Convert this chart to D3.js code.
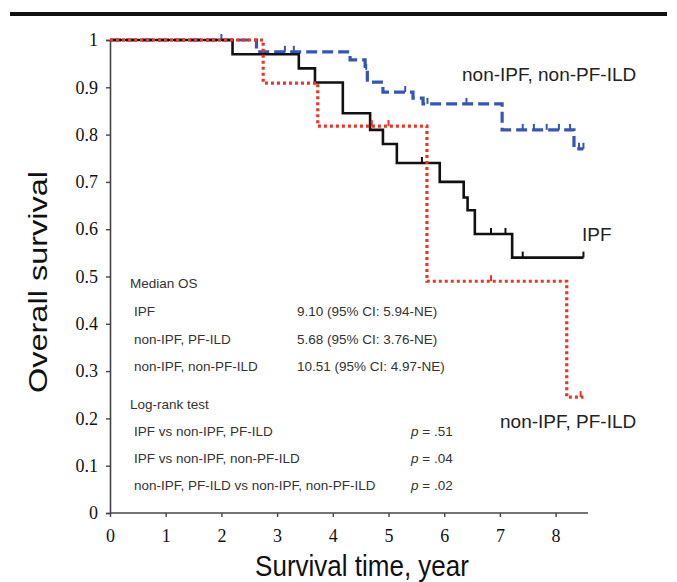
<!DOCTYPE html>
<html>
<head>
<meta charset="utf-8">
<script src="https://cdn.jsdelivr.net/npm/d3@7"></script>
<style>
  body { margin: 0; background: #fff; }
  svg text { font-family: "Liberation Sans", Arial, sans-serif; }
</style>
</head>
<body>
<svg id="chart" width="677" height="582"></svg>
<script>
// axis ticks
const xTicks = [0, 1, 2, 3, 4, 5, 6, 7, 8];
const yTicks = [0, 0.1, 0.2, 0.3, 0.4, 0.5, 0.6, 0.7, 0.8, 0.9, 1];

// step curves (time in years, survival)
const ipfTimes = [0, 2.2, 3.39, 3.68, 4.18, 4.67, 4.9, 5.15, 5.92, 6.35, 6.42, 6.55, 7.22, 8.5];
const ipfSurv  = [1, 0.97, 0.94, 0.91, 0.845, 0.81, 0.78, 0.74, 0.70, 0.667, 0.64, 0.59, 0.54, 0.54];
const ipfCensor = [5.6, 6.84, 7.1, 7.41, 8.5];

const pfTimes = [0, 2.75, 3.73, 5.69, 8.2, 8.5];
const pfSurv  = [1, 0.909, 0.818, 0.49, 0.245, 0.245];
const pfCensor = [4.7, 5.0, 6.84, 8.45];

const nonTimes = [0, 2.63, 4.31, 4.58, 4.62, 4.9, 5.44, 5.62, 7.04, 8.33, 8.5];
const nonSurv  = [1, 0.975, 0.958, 0.937, 0.911, 0.89, 0.877, 0.865, 0.81, 0.77, 0.77];
const nonCensor = [2.0, 3.14, 3.3, 4.6, 5.3, 5.7, 6.4, 7.41, 7.61, 7.84, 8.06, 8.26, 8.42, 8.5];

// legend box contents
const medianRows = ["IPF", "non-IPF, PF-ILD", "non-IPF, non-PF-ILD"];
const medianVals = ["9.10 (95% CI: 5.94-NE)", "5.68 (95% CI: 3.76-NE)", "10.51 (95% CI: 4.97-NE)"];
const testRows = ["IPF vs non-IPF, PF-ILD", "IPF vs non-IPF, non-PF-ILD", "non-IPF, PF-ILD vs non-IPF, non-PF-ILD"];
const testP = [".51", ".04", ".02"];

const svg = d3.select("#chart");

// rule at the top of the figure
svg.append("rect").attr("x", 10).attr("y", 12).attr("width", 657).attr("height", 4).attr("fill", "#111");

const x = d3.scaleLinear().domain([0, 8]).range([110, 555.6]);
const y = d3.scaleLinear().domain([0, 1]).range([513, 40]);

// axes
const xAxis = svg.append("g")
  .attr("transform", "translate(0," + y(0) + ")")
  .call(d3.axisBottom(x).tickValues(xTicks).tickSize(4).tickPadding(12).tickFormat(d3.format("d")));
xAxis.select(".domain").attr("d", "M110,0H588");

const yAxis = svg.append("g")
  .attr("transform", "translate(" + x(0) + ",0)")
  .call(d3.axisLeft(y).tickValues(yTicks).tickSize(4).tickPadding(8).tickFormat(d => d === 0 || d === 1 ? d3.format("d")(d) : d3.format(".1f")(d)));

[xAxis, yAxis].forEach(g => {
  g.selectAll(".domain").attr("stroke", "#444").attr("stroke-width", 1.6);
  g.selectAll(".tick line").attr("stroke", "#444").attr("stroke-width", 1.4);
  g.selectAll(".tick text")
    .style("font-family", "'Liberation Serif', 'Times New Roman', serif")
    .style("font-size", "18px").attr("fill", "#111");
});

// axis titles (the source figure is a little stretched vertically)
svg.append("text")
  .attr("transform", "translate(47,282) rotate(-90) scale(1.25,1)")
  .attr("text-anchor", "middle").style("font-size", "26px").attr("fill", "#111")
  .text("Overall survival");
svg.append("text")
  .attr("transform", "translate(362,576) scale(1,1.1)")
  .attr("text-anchor", "middle").style("font-size", "26px").attr("fill", "#111")
  .text("Survival time, year");

const stepLine = d3.line().x(d => x(d[0])).y(d => y(d[1])).curve(d3.curveStepAfter);

const survAt = (times, surv, t) => {
  let s = surv[0];
  times.forEach((tt, i) => { if (tt <= t) s = surv[i]; });
  return s;
};

const groups = [
  { times: pfTimes, surv: pfSurv, censor: pfCensor, color: "#f2331f", width: 3.2, dash: "3,3" },
  { times: ipfTimes, surv: ipfSurv, censor: ipfCensor, color: "#111", width: 2.6, dash: null },
  { times: nonTimes, surv: nonSurv, censor: nonCensor, color: "#3556b8", width: 3.2, dash: "11,5" }
];

// draw blue first, then black, red dotted on top
[groups[2], groups[1], groups[0]].forEach(g => {
  const pts = g.times.map((t, i) => [t, g.surv[i]]);
  svg.append("path")
    .attr("d", stepLine(pts))
    .attr("fill", "none")
    .attr("stroke", g.color)
    .attr("stroke-width", g.width)
    .attr("stroke-dasharray", g.dash);
  svg.append("g").selectAll("line")
    .data(g.censor)
    .enter().append("line")
    .attr("x1", d => x(d)).attr("x2", d => x(d))
    .attr("y1", d => y(survAt(g.times, g.surv, d)))
    .attr("y2", d => y(survAt(g.times, g.surv, d)) - 6)
    .attr("stroke", g.color)
    .attr("stroke-width", 2);
});

// curve labels
svg.append("text").attr("x", 462).attr("y", 81).style("font-size", "19px").attr("fill", "#222").text("non-IPF, non-PF-ILD");
svg.append("text").attr("x", 582).attr("y", 241).style("font-size", "19px").attr("fill", "#222").text("IPF");
svg.append("text").attr("x", 500).attr("y", 428).style("font-size", "19px").attr("fill", "#222").text("non-IPF, PF-ILD");

// median OS / log-rank block
const info = svg.append("g").style("font-size", "13.5px").attr("fill", "#333");
info.append("text").attr("x", 130).attr("y", 288).text("Median OS");
medianRows.forEach((r, i) => {
  info.append("text").attr("x", 134).attr("y", 316 + i * 27.5).text(r);
  info.append("text").attr("x", 297).attr("y", 316 + i * 27.5).text(medianVals[i]);
});
info.append("text").attr("x", 130).attr("y", 409).text("Log-rank test");
testRows.forEach((r, i) => {
  info.append("text").attr("x", 134).attr("y", 436 + i * 27).text(r);
  const t = info.append("text").attr("x", 411).attr("y", 436 + i * 27);
  t.append("tspan").style("font-style", "italic").text("p");
  t.append("tspan").text(" = " + testP[i]);
});
</script>
</body>
</html>
